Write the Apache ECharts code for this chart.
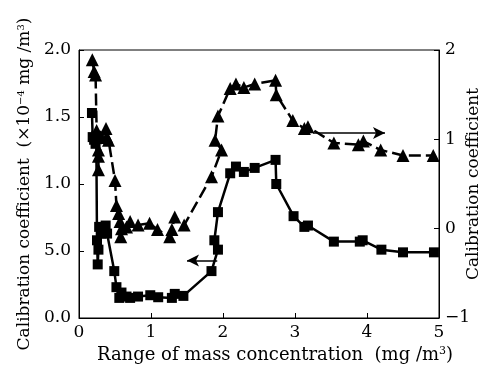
<!DOCTYPE html>
<html><head><meta charset="utf-8">
<script src="https://cdn.jsdelivr.net/npm/echarts@6/dist/echarts.min.js"></script>
<style>html,body{margin:0;padding:0;background:#fff}#c{width:483px;height:372px}</style>
</head><body><div id="c"></div>
<script>
// Square series (left axis, ×10^-4 mg/m3)
const sqX = [0.18,0.19,0.21,0.23,0.24,0.25,0.26,0.27,0.28,0.31,0.37,0.39,0.49,0.52,0.56,0.59,0.66,0.71,0.82,0.99,1.10,1.29,1.33,1.45,1.84,1.93,1.88,1.93,2.10,2.18,2.29,2.44,2.73,2.74,2.98,3.13,3.18,3.54,3.90,3.94,4.20,4.50,4.93];
const sqY = [1.53,1.35,1.33,1.30,1.36,0.58,0.40,0.51,0.68,0.63,0.69,0.63,0.35,0.23,0.15,0.19,0.16,0.15,0.16,0.17,0.155,0.15,0.18,0.165,0.35,0.51,0.58,0.79,1.08,1.13,1.09,1.12,1.18,1.00,0.76,0.68,0.69,0.57,0.57,0.58,0.51,0.49,0.49];
// Triangle series (right axis)
const triX = [0.185,0.21,0.23,0.245,0.255,0.27,0.27,0.27,0.31,0.375,0.385,0.41,0.50,0.52,0.55,0.57,0.58,0.59,0.66,0.71,0.82,0.98,1.09,1.26,1.29,1.33,1.46,1.84,1.98,1.89,1.93,2.10,2.18,2.29,2.44,2.73,2.74,2.97,3.13,3.18,3.54,3.88,3.95,4.19,4.50,4.92];
const triY = [1.89,1.76,1.72,1.10,1.03,0.88,0.81,0.66,1.02,1.12,1.03,0.99,0.54,0.26,0.17,0.08,-0.09,0.00,0.02,0.08,0.04,0.06,-0.01,-0.09,-0.01,0.13,0.04,0.58,0.88,0.99,1.26,1.57,1.62,1.58,1.62,1.66,1.50,1.21,1.12,1.14,0.96,0.94,0.98,0.88,0.82,0.82];
const xTickLabels = ['0','1','2','3','4','5'];
const leftTickLabels = ['0.0','5.0','1.0','1.5','2.0'];
const rightTickLabels = ['\u22121','0','1','2'];
const rightTitle = 'Calibration coefficient';
// Arrow annotations (data units)
const leftArrow = {x0:1.92, x1:1.50, y:0.43};
const rightArrow = {x0:3.25, x1:4.25, y:1.07};

const FONT = 'DejaVu Serif';
const chart = echarts.init(document.getElementById('c'));
const labelStyle = {color:'#000', fontFamily:FONT, fontSize:17};
chart.setOption({
  animation:false,
  grid:{left:79, right:44, top:50, bottom:54, show:true, borderColor:'#000', borderWidth:1,
        containLabel:false, outerBoundsMode:'none'},
  graphic:[{type:'text', x:474, y:184, rotation:Math.PI/2,
    style:{text:rightTitle, fontFamily:FONT, fontSize:17, fill:'#000', align:'center', verticalAlign:'middle'}}],
  xAxis:{type:'value', min:0, max:5, interval:1,
    name:'{a|Range of mass concentration  (mg /m}{s|3}{a|)}', nameLocation:'middle', nameGap:27,
    nameTextStyle:{color:'#000', fontFamily:FONT, fontSize:18, padding:[0,0,0,32],
      rich:{a:{fontFamily:FONT, fontSize:18, color:'#000'}, s:{fontFamily:FONT, fontSize:11, color:'#000', verticalAlign:'top', padding:[0,0,7,0]}}},
    axisLine:{lineStyle:{color:'#000', width:1}},
    axisTick:{inside:true, length:5, lineStyle:{color:'#000'}},
    axisLabel:{...labelStyle, margin:6, formatter:(v)=>xTickLabels[Math.round(v)]},
    splitLine:{show:false}},
  yAxis:[
    {type:'value', min:0, max:2, interval:0.5, position:'left',
     name:'{a|Calibration coefficient  (\u00d710}{s|\u22124}{a| mg /m}{s|3}{a|)}', nameLocation:'middle', nameGap:46,
     nameTextStyle:{color:'#000', fontFamily:FONT, fontSize:17,
       rich:{a:{fontFamily:FONT, fontSize:17, color:'#000'}, s:{fontFamily:FONT, fontSize:10, color:'#000', verticalAlign:'top', padding:[0,0,7,0]}}},
     axisLine:{show:true, lineStyle:{color:'#000'}},
     axisTick:{inside:true, length:5, lineStyle:{color:'#000'}},
     axisLabel:{...labelStyle, margin:8, formatter:(v)=>leftTickLabels[Math.round(v*2)]},
     splitLine:{show:false}},
    {type:'value', min:-1, max:2, interval:1, position:'right',
     axisLine:{show:true, lineStyle:{color:'#000'}},
     axisTick:{inside:true, length:5, lineStyle:{color:'#000'}},
     axisLabel:{...labelStyle, margin:6, formatter:(v)=>rightTickLabels[Math.round(v)+1]},
     splitLine:{show:false}}
  ],
  series:[
    {type:'line', yAxisIndex:0, data:sqX.map((x,i)=>[x,sqY[i]]),
     symbol:'rect', symbolSize:10, showAllSymbol:true,
     itemStyle:{color:'#000'}, lineStyle:{color:'#000', width:2.5},
     markLine:{silent:true, symbol:['none','arrow'], symbolSize:[9,12], label:{show:false},
       lineStyle:{color:'#000', width:1.5, type:'solid'},
       data:[[{coord:[leftArrow.x0,leftArrow.y]},{coord:[leftArrow.x1,leftArrow.y]}]]}},
    {type:'line', yAxisIndex:1, data:triX.map((x,i)=>[x,triY[i]]),
     symbol:'triangle', symbolSize:13, showAllSymbol:true,
     itemStyle:{color:'#000'}, lineStyle:{color:'#000', width:2.5, type:[12,5]},
     markLine:{silent:true, symbol:['none','arrow'], symbolSize:[9,12], label:{show:false},
       lineStyle:{color:'#000', width:1.5, type:'solid'},
       data:[[{coord:[rightArrow.x0,rightArrow.y]},{coord:[rightArrow.x1,rightArrow.y]}]]}}
  ]
});
</script></body></html>
